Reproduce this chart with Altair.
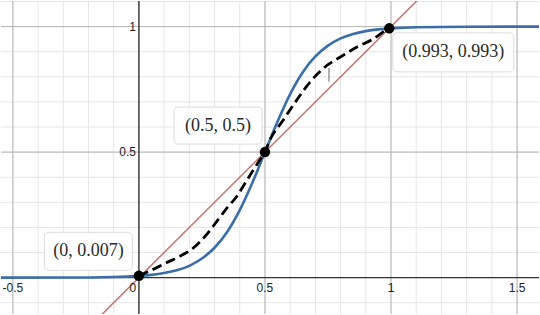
import altair as alt
import pandas as pd

# ---- data ----
sig_x = [-0.55, -0.3, -0.1, 0.0, 0.05, 0.1, 0.15, 0.2, 0.25, 0.3, 0.35, 0.4, 0.45, 0.5,
         0.55, 0.6, 0.65, 0.7, 0.75, 0.8, 0.85, 0.9, 0.95, 1.0, 1.1, 1.3, 1.6]
sig_y = [0.0, 0.0003, 0.0025, 0.007, 0.011, 0.018, 0.029, 0.047, 0.076, 0.119, 0.182, 0.269, 0.378, 0.5,
         0.622, 0.731, 0.818, 0.881, 0.924, 0.953, 0.971, 0.982, 0.989, 0.993, 0.9975, 0.9997, 1.0]

dash_x = [0.0, 0.032, 0.111, 0.164, 0.217, 0.263, 0.309, 0.349, 0.388, 0.421, 0.454, 0.48, 0.5,
          0.52, 0.572, 0.625, 0.678, 0.744, 0.796, 0.862, 0.928, 0.987, 0.993]
dash_y = [0.007, 0.021, 0.06, 0.086, 0.119, 0.165, 0.224, 0.277, 0.323, 0.376, 0.429, 0.469, 0.5,
          0.549, 0.627, 0.706, 0.778, 0.844, 0.877, 0.917, 0.95, 0.99, 0.993]

line_x = [-0.3, 1.3]
line_y = [-0.3, 1.3]

pt_x = [0.0, 0.5, 0.993]
pt_y = [0.007, 0.5, 0.993]
pt_labels = ["(0, 0.007)", "(0.5, 0.5)", "(0.993, 0.993)"]

minor_ticks = [-0.5, -0.4, -0.3, -0.2, -0.1, 0.0, 0.1, 0.2, 0.3, 0.4, 0.5, 0.6, 0.7, 0.8, 0.9,
               1.0, 1.1, 1.2, 1.3, 1.4, 1.5]
major_x = [-0.5, 0.5, 1.0, 1.5]
major_y = [0.5, 1.0]
x_tick_labels = ["-0.5", "0.5", "1", "1.5"]
y_tick_labels = ["0.5", "1"]

mark_x = [0.754]
mark_y = [0.835]
mark_y2 = [0.78]

# ---- scales ----
XD = [-0.547, 1.587]
YD = [-0.145, 1.102]
xs = alt.Scale(domain=XD, nice=False, zero=False)
ys = alt.Scale(domain=YD, nice=False, zero=False)
noaxis = None


def X(field="x"):
    return alt.X(f"{field}:Q", scale=xs, axis=noaxis)


def Y(field="y"):
    return alt.Y(f"{field}:Q", scale=ys, axis=noaxis)


minor_v = alt.Chart(pd.DataFrame({"x": minor_ticks})).mark_rule(color="#e6e6e6", strokeWidth=1).encode(x=X())
minor_h = alt.Chart(pd.DataFrame({"y": [v for v in minor_ticks if -0.15 < v < 1.11]})).mark_rule(
    color="#e6e6e6", strokeWidth=1).encode(y=Y())
major_v = alt.Chart(pd.DataFrame({"x": major_x})).mark_rule(color="#b5b5b5", strokeWidth=1).encode(x=X())
major_h = alt.Chart(pd.DataFrame({"y": major_y})).mark_rule(color="#b5b5b5", strokeWidth=1).encode(y=Y())
axis_v = alt.Chart(pd.DataFrame({"x": [0.0]})).mark_rule(color="#333333", strokeWidth=1.4).encode(x=X())
axis_h = alt.Chart(pd.DataFrame({"y": [0.0]})).mark_rule(color="#333333", strokeWidth=1.4).encode(y=Y())

xlab = alt.Chart(pd.DataFrame({"x": major_x, "y": [0.0] * len(major_x), "t": x_tick_labels})).mark_text(
    font="Liberation Sans", fontSize=12, color="#222222", baseline="middle", align="center", dy=10
).encode(x=X(), y=Y(), text="t:N")
zero_lab = alt.Chart(pd.DataFrame({"x": [0.0], "y": [0.0], "t": ["0"]})).mark_text(
    font="Liberation Sans", fontSize=12, color="#222222", baseline="middle", align="center", dx=-6, dy=10
).encode(x=X(), y=Y(), text="t:N")
ylab = alt.Chart(pd.DataFrame({"x": [0.0] * len(major_y), "y": major_y, "t": y_tick_labels})).mark_text(
    font="Liberation Sans", fontSize=12, color="#222222", baseline="middle", align="right", dx=-3
).encode(x=X(), y=Y(), text="t:N")

red = alt.Chart(pd.DataFrame({"x": line_x, "y": line_y})).mark_line(
    color="#b4504a", strokeWidth=1.5, opacity=0.8, clip=True).encode(x=X(), y=Y())
blue = alt.Chart(pd.DataFrame({"x": sig_x, "y": sig_y})).mark_line(
    color="#3b6ea8", strokeWidth=2.6, interpolate="monotone", clip=True).encode(x=X(), y=Y())
dashed = alt.Chart(pd.DataFrame({"x": dash_x, "y": dash_y})).mark_line(
    color="#000000", strokeWidth=2.8, strokeDash=[10, 5], interpolate="monotone").encode(x=X(), y=Y())
artifact = alt.Chart(pd.DataFrame({"x": mark_x, "y": mark_y, "y2": mark_y2})).mark_rule(
    color="#666666", strokeWidth=1).encode(x=X(), y=Y(), y2="y2:Q")
points = alt.Chart(pd.DataFrame({"x": pt_x, "y": pt_y})).mark_circle(
    color="#000000", size=110, opacity=1).encode(x=X(), y=Y())

# label boxes: (dx, dy, w, h) offsets in pixels from each point
box_layout = [(-50.5, -24.5, 88, 38), (-47, -26.5, 88, 37), (64, 24, 121, 39)]
label_layers = []
for (px, py, t), (dx, dy, w, h) in zip(zip(pt_x, pt_y, pt_labels), box_layout):
    df = pd.DataFrame({"x": [px], "y": [py], "t": [t]})
    base = alt.Chart(df).encode(x=X(), y=Y())
    label_layers.append(base.mark_rect(width=w, height=h, xOffset=dx, yOffset=dy, fill="white",
                                       stroke="#dcdcdc", strokeWidth=1, cornerRadius=4))
    label_layers.append(base.mark_text(dx=dx, dy=dy, font="Liberation Serif", fontSize=18,
                                       color="#2a2a2a", baseline="middle", align="center").encode(text="t:N"))

chart = alt.layer(
    minor_v, minor_h, major_v, major_h, axis_v, axis_h,
    red, blue, dashed, artifact, points,
    *label_layers,
    xlab, zero_lab, ylab,
).properties(
    width=540, height=315,
    autosize=alt.AutoSizeParams(type="fit", contains="padding"),
    padding=0,
    background="white",
).configure_view(stroke=None)

chart.save("out.html", embed_options={"renderer": "svg", "actions": False})
